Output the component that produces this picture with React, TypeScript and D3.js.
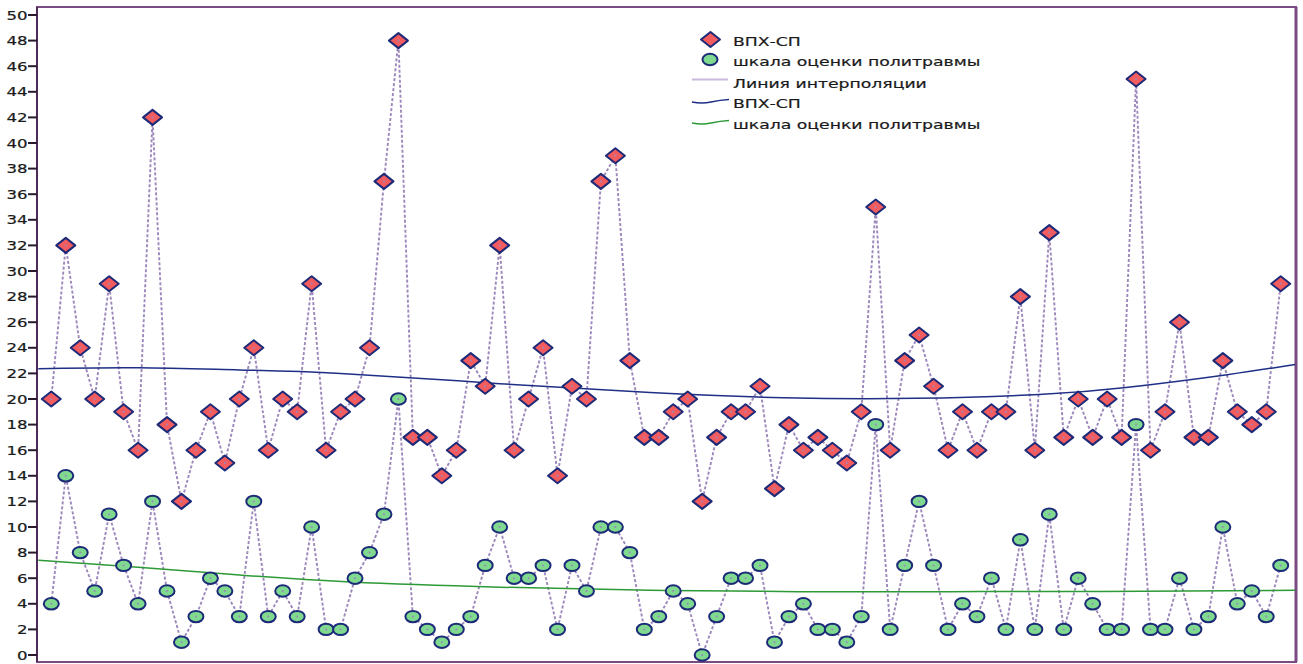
import React from "react";
import * as d3 from "d3";

const yTicks = [0, 2, 4, 6, 8, 10, 12, 14, 16, 18, 20, 22, 24, 26, 28, 30, 32, 34, 36, 38, 40, 42, 44, 46, 48, 50];

const vpxSp = [
  20, 32, 24, 20, 29, 19, 16, 42, 18, 12, 16, 19, 15, 20, 24, 16, 20, 19, 29, 16,
  19, 20, 24, 37, 48, 17, 17, 14, 16, 23, 21, 32, 16, 20, 24, 14, 21, 20, 37, 39,
  23, 17, 17, 19, 20, 12, 17, 19, 19, 21, 13, 18, 16, 17, 16, 15, 19, 35, 16, 23,
  25, 21, 16, 19, 16, 19, 19, 28, 16, 33, 17, 20, 17, 20, 17, 45, 16, 19, 26, 17,
  17, 23, 19, 18, 19, 29,
];

const politrauma = [
  4, 14, 8, 5, 11, 7, 4, 12, 5, 1, 3, 6, 5, 3, 12, 3, 5, 3, 10, 2,
  2, 6, 8, 11, 20, 3, 2, 1, 2, 3, 7, 10, 6, 6, 7, 2, 7, 5, 10, 10,
  8, 2, 3, 5, 4, 0, 3, 6, 6, 7, 1, 3, 4, 2, 2, 1, 3, 18, 2, 7,
  12, 7, 2, 4, 3, 6, 2, 9, 2, 11, 2, 6, 4, 2, 2, 18, 2, 2, 6, 2,
  3, 10, 4, 5, 3, 7,
];

const blueTrendX = [-0.9, 6, 13, 20, 31, 41.4, 50.6, 59.8, 68.3, 74.3, 81.3, 86];
const blueTrendY = [22.37, 22.44, 22.27, 22.0, 21.2, 20.5, 20.1, 20.05, 20.35, 20.9, 21.9, 22.7];
const greenTrendX = [-0.9, 6, 13, 20.7, 31, 41.4, 51.7, 62.1, 72.5, 86];
const greenTrendY = [7.4, 6.85, 6.25, 5.7, 5.3, 5.05, 4.95, 4.95, 4.97, 5.05];

const legendLabels = ["ВПХ-СП", "шкала оценки политравмы", "Линия интерполяции", "ВПХ-СП", "шкала оценки политравмы"];

const W = 1303;
const H = 664;
const FONT = "'DejaVu Sans', Verdana, sans-serif";
const SX = 1.38;

const NAVY = "#1c2a78";
const DIAMOND_FILL = "#f25c5f";
const CIRCLE_FILL = "#7fd98e";
const DASH = "#9c88bb";
const BLUE = "#1f2f86";
const GREEN = "#2c9a36";
const FRAME = "#7a4a82";

export default function App() {
  const x = d3.scaleLinear().domain([0, 85]).range([51.3, 1280.7]);
  const y = d3.scaleLinear().domain([0, 50]).range([655, 15]);

  const line = d3
    .line<number>()
    .x((_, i) => x(i))
    .y((d) => y(d));

  const trend = d3
    .line<[number, number]>()
    .x((d) => x(d[0]))
    .y((d) => y(d[1]))
    .curve(d3.curveNatural);

  const blueTrend = blueTrendX.map((v, i) => [v, blueTrendY[i]] as [number, number]);
  const greenTrend = greenTrendX.map((v, i) => [v, greenTrendY[i]] as [number, number]);

  const diamond = (cx: number, cy: number) =>
    `M${cx - 9.5},${cy} L${cx},${cy - 7.5} L${cx + 9.5},${cy} L${cx},${cy + 7.5} Z`;

  const left = 37;
  const top = 7;
  const right = 1296;
  const bottom = 662;

  const legendBase = [45.5, 66, 87.5, 108, 129];
  const legendTextX = 733;

  return (
    <svg
      width={W}
      height={H}
      style={{ position: "absolute", left: 0, top: 0, background: "#fff" }}
      fontFamily={FONT}
    >
      <rect x={0} y={0} width={W} height={H} fill="#fff" />
      <defs>
        <clipPath id="plot">
          <rect x={left} y={top} width={right - left} height={bottom - top} />
        </clipPath>
      </defs>

      {/* frame */}
      <rect x={left} y={top} width={right - left} height={bottom - top} fill="none" stroke={FRAME} strokeWidth={2} />
      <line x1={right} y1={top} x2={right} y2={bottom} stroke={FRAME} strokeWidth={3} />
      <line x1={left} y1={top} x2={left} y2={bottom} stroke="#4f2a58" strokeWidth={2} />

      {/* y axis ticks */}
      {yTicks.map((t) => (
        <g key={t}>
          <line x1={28} x2={left} y1={y(t)} y2={y(t)} stroke="#2a1a2e" strokeWidth={2} />
          <text
            transform={`translate(27.5,${y(t) + 4.5}) scale(${SX},1)`}
            textAnchor="end"
            fontSize={12}
            fill="#1a1a1a"
            stroke="#1a1a1a"
            strokeWidth={0.2}
          >
            {t}
          </text>
        </g>
      ))}

      <g clipPath="url(#plot)">
        {/* interpolation (dashed) lines */}
        <path d={line(vpxSp) || ""} fill="none" stroke={DASH} strokeWidth={1.9} strokeDasharray="3,2" />
        <path d={line(politrauma) || ""} fill="none" stroke={DASH} strokeWidth={1.9} strokeDasharray="3,2" />

        {/* trend curves */}
        <path d={trend(blueTrend) || ""} fill="none" stroke={BLUE} strokeWidth={1.5} />
        <path d={trend(greenTrend) || ""} fill="none" stroke={GREEN} strokeWidth={1.5} />

        {/* markers */}
        {vpxSp.map((v, i) => (
          <g key={"d" + i}>
            <path d={diamond(x(i), y(v))} fill={DIAMOND_FILL} stroke={NAVY} strokeWidth={2} strokeLinejoin="round" />
            <circle cx={x(i)} cy={y(v)} r={1} fill={DASH} />
          </g>
        ))}
        {politrauma.map((v, i) => (
          <g key={"c" + i}>
            <ellipse cx={x(i)} cy={y(v)} rx={7.5} ry={5.7} fill={CIRCLE_FILL} stroke={NAVY} strokeWidth={2} />
            <circle cx={x(i)} cy={y(v)} r={1} fill={DASH} />
          </g>
        ))}
      </g>

      {/* legend */}
      <path d={diamond(710.5, 39.5)} fill={DIAMOND_FILL} stroke={NAVY} strokeWidth={2} strokeLinejoin="round" />
      <ellipse cx={710} cy={59.5} rx={7.5} ry={5.7} fill={CIRCLE_FILL} stroke={NAVY} strokeWidth={2} />
      <line x1={692} x2={728} y1={79.5} y2={79.5} stroke="#c9b9da" strokeWidth={2} />
      <path d="M692,102 Q702,104 711,102 T729,99.5" fill="none" stroke={BLUE} strokeWidth={1.5} />
      <path d="M692,123 Q702,125 711,123 T729,120.5" fill="none" stroke={GREEN} strokeWidth={1.5} />
      {legendLabels.map((s, i) => (
        <text
          key={i}
          transform={`translate(${legendTextX},${legendBase[i]}) scale(${SX},1)`}
          fontSize={12.5}
          fill="#1a1a1a"
          stroke="#1a1a1a"
          strokeWidth={0.2}
        >
          {s}
        </text>
      ))}
    </svg>
  );
}
